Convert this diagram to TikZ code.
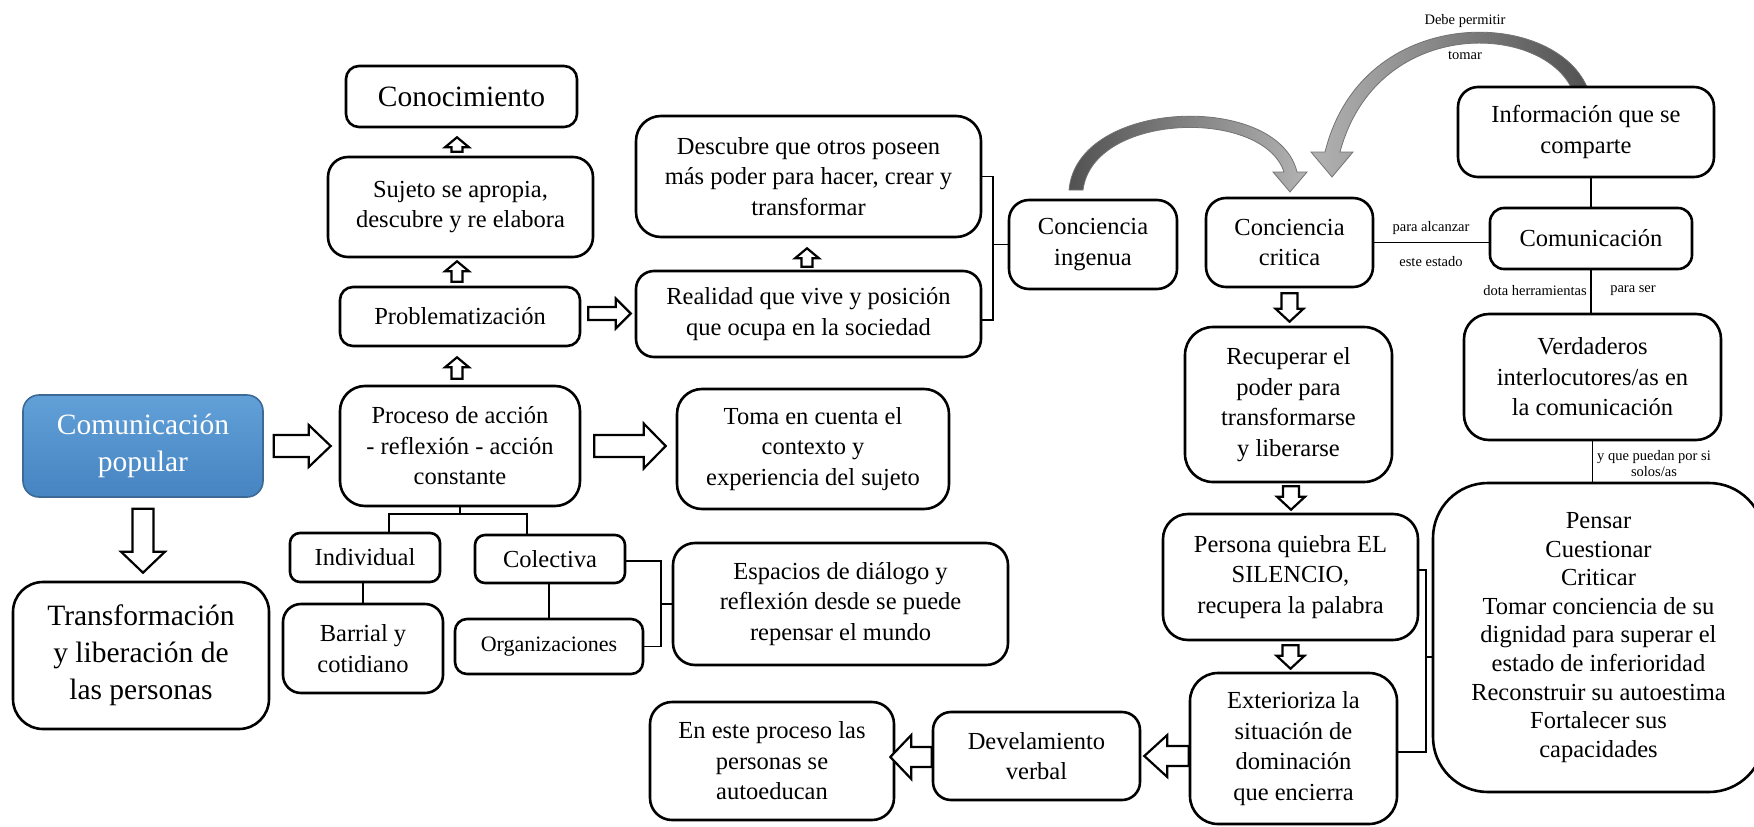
\documentclass[tikz,border=0pt]{standalone}
\usepackage{fontspec}
\setmainfont{Liberation Serif}
\usetikzlibrary{calc}
\newcommand\fa{\fontsize{24.5}{30.5}\selectfont}
\newcommand\fb{\fontsize{29.5}{37}\selectfont}
\newcommand\fsm{\fontsize{14.5}{16}\selectfont}
\newcommand\fpe{\fontsize{24.5}{28.6}\selectfont}
\newcommand\forg{\fontsize{22}{26}\selectfont}
\definecolor{bluetop}{RGB}{98,160,216}
\definecolor{bluebot}{RGB}{70,132,194}
\definecolor{bluedark}{RGB}{60,105,150}
% hollow block arrows: #1 tail, #2 tip, #3 half shaft, #4 half head, #5 head length
\newcommand{\ArrR}[5]{\draw[barrow] let \p1=#1, \p2=#2 in
 (\x1,\y1+#3) -- (\x2-#5,\y1+#3) -- (\x2-#5,\y1+#4) -- (\x2,\y1) -- (\x2-#5,\y1-#4) -- (\x2-#5,\y1-#3) -- (\x1,\y1-#3) -- cycle;}
\newcommand{\ArrL}[5]{\draw[barrow] let \p1=#1, \p2=#2 in
 (\x1,\y1+#3) -- (\x2+#5,\y1+#3) -- (\x2+#5,\y1+#4) -- (\x2,\y1) -- (\x2+#5,\y1-#4) -- (\x2+#5,\y1-#3) -- (\x1,\y1-#3) -- cycle;}
\newcommand{\ArrD}[5]{\draw[barrow] let \p1=#1, \p2=#2 in
 (\x1-#3,\y1) -- (\x1-#3,\y2+#5) -- (\x1-#4,\y2+#5) -- (\x1,\y2) -- (\x1+#4,\y2+#5) -- (\x1+#3,\y2+#5) -- (\x1+#3,\y1) -- cycle;}
\newcommand{\ArrU}[5]{\draw[barrow] let \p1=#1, \p2=#2 in
 (\x1-#3,\y1) -- (\x1-#3,\y2-#5) -- (\x1-#4,\y2-#5) -- (\x1,\y2) -- (\x1+#4,\y2-#5) -- (\x1+#3,\y2-#5) -- (\x1+#3,\y1) -- cycle;}
\tikzset{
 box/.style={draw, line width=2.6pt, rounded corners=#1, align=center, inner sep=0pt, fill=white, font=\fa},
 box/.default=18pt,
 bluebox/.style={draw=bluedark, line width=1.6pt, rounded corners=16pt, align=center, inner sep=0pt,
   top color=bluetop, bottom color=bluebot, text=white, font=\fb},
 conn/.style={line width=1.7pt},
 barrow/.style={draw, line width=2.2pt, fill=white, line join=miter},
 lbl/.style={font=\fsm, align=center, inner sep=0pt},
 garrow/.style={draw=black!55, line width=0.8pt},
}
\begin{document}
\begin{tikzpicture}[x=1pt,y=-1pt]
\useasboundingbox (0,0) rectangle (1754,827);

% gray curved arrows
\shadedraw[garrow, left color=black!30, right color=black!68]
  (1587,87) .. controls (1553,8) and (1362,2) .. (1325,152) -- (1311,152) -- (1332,177) -- (1353,152) -- (1340,152)
  .. controls (1376,18) and (1537,22) .. (1571,87) -- cycle;
\shadedraw[garrow, left color=black!68, right color=black!30]
  (1069,190) .. controls (1077,98) and (1278,92) .. (1297,172) -- (1307,172) -- (1290,192) -- (1273,172) -- (1284,172)
  .. controls (1263,108) and (1093,112) .. (1083,190) -- cycle;

% nodes
\node[bluebox, minimum width=240pt, minimum height=102pt] (cp) at (143,446) {Comunicación\\popular};
\node[box=30pt, font=\fb, minimum width=256pt, minimum height=147pt] (tr) at (141,655.5) {Transformación\\y liberación de\\las personas};
\node[box=25pt, minimum width=240pt, minimum height=120pt] (pr) at (460,446) {Proceso de acción\\- reflexión - acción\\constante};
\node[box=13pt, minimum width=240pt, minimum height=59pt] (pb) at (460,316.5) {Problematización};
\node[box=20pt, minimum width=265pt, minimum height=100pt] (sj) at (460.5,207) {Sujeto se apropia,\\descubre y re elabora};
\node[box=13pt, font=\fb, minimum width=231pt, minimum height=61pt] (co) at (461.5,96.5) {Conocimiento};
\node[box=25pt, minimum width=272pt, minimum height=120pt] (to) at (813,449) {Toma en cuenta el\\contexto y\\experiencia del sujeto};
\node[box=25pt, minimum width=345pt, minimum height=121pt] (de) at (808.5,176.5) {Descubre que otros poseen\\más poder para hacer, crear y\\transformar};
\node[box=18pt, minimum width=345pt, minimum height=86pt] (re) at (808.5,314) {Realidad que vive y posición\\que ocupa en la sociedad};
\node[box=20pt, minimum width=168pt, minimum height=89pt] (ci) at (1093,244.5) {Conciencia\\ingenua};
\node[box=20pt, minimum width=167pt, minimum height=89pt] (cc) at (1289.5,242.5) {Conciencia\\critica};
\node[box=20pt, minimum width=256pt, minimum height=90pt] (in) at (1586,132) {Información que se\\comparte};
\node[box=14pt, minimum width=202pt, minimum height=61pt] (cm) at (1591,238.5) {Comunicación};
\node[box=25pt, minimum width=257pt, minimum height=126pt] (ve) at (1592.5,377) {Verdaderos\\interlocutores/as en\\la comunicación};
\node[box=55pt, font=\fpe, minimum width=331pt, minimum height=309pt] (pe) at (1598.5,637.5) {Pensar\\Cuestionar\\Criticar\\Tomar conciencia de su\\dignidad para superar el\\estado de inferioridad\\Reconstruir su autoestima\\Fortalecer sus\\capacidades};
\node[box=28pt, minimum width=207pt, minimum height=155pt] (rc) at (1288.5,404.5) {Recuperar el\\poder para\\transformarse\\y liberarse};
\node[box=25pt, minimum width=255pt, minimum height=126pt] (pq) at (1290.5,577) {Persona quiebra EL\\SILENCIO,\\recupera la palabra};
\node[box=28pt, minimum width=207pt, minimum height=151pt] (ex) at (1293.5,748.5) {Exterioriza la\\situación de\\dominación\\que encierra};
\node[box=18pt, minimum width=207pt, minimum height=88pt] (dv) at (1036.5,756) {Develamiento\\verbal};
\node[box=22pt, minimum width=244pt, minimum height=118pt] (en) at (772,761) {En este proceso las\\personas se\\autoeducan};
\node[box=10pt, minimum width=150pt, minimum height=49pt] (id) at (365,557.5) {Individual};
\node[box=10pt, minimum width=150pt, minimum height=48pt] (cl) at (550,559) {Colectiva};
\node[box=18pt, minimum width=160pt, minimum height=89pt] (ba) at (363,648.5) {Barrial y\\cotidiano};
\node[box=12pt, font=\forg, minimum width=188pt, minimum height=55pt] (og) at (549,646.5) {Organizaciones};
\node[box=22pt, minimum width=335pt, minimum height=122pt] (es) at (840.5,604) {Espacios de diálogo y\\reflexión desde se puede\\repensar el mundo};

% plain connectors
\draw[conn] (pr.south) -- ++(0,7) coordinate (tj);
\draw[conn] ($(id.north)+(24,0)$) |- (tj) -| ($(cl.north)+(-23,0)$);
\draw[conn] (ba.north) -- (ba.north |- id.south);
\draw[conn] (og.north) -- (og.north |- cl.south);
\draw[conn] ($(cl.east)+(0,2)$) -- ++(35,0) coordinate (b2) |- (og.east);
\draw[conn] (b2 |- es.west) -- (es.west);
\draw[conn] (de.east) -- ++(11,0) coordinate (b1) |- ($(re.east)+(0,6)$);
\draw[conn] (b1 |- ci.west) -- (ci.west);
\draw[conn] ($(pq.east)+(0,-7)$) -- ++(7,0) coordinate (b3) |- ($(ex.east)+(0,3.5)$);
\coordinate (pm) at ($(pe.west)+(0,19.5)$);
\draw[conn] (pm) -- (pm -| b3);
\draw[conn] (cm.north) -- (cm.north |- in.south);
\draw[conn] (cm.south) -- (cm.south |- ve.north);
\draw[conn] (ve.south) -- (ve.south |- pe.north);
\draw[conn] (cc.east) -- (cc.east -| cm.west);

% hollow block arrows
\ArrR{($(cp.east)+(10,0)$)}{($(pr.west)+(-8,0)$)}{11pt}{21pt}{22pt}
\ArrD{($(cp.south)+(0,11)$)}{($(tr.north)+(0,-8)$)}{10.5pt}{22pt}{21pt}
\ArrR{($(pr.east)+(13,0)$)}{($(to.west)+(-10,0)$)}{11pt}{22.5pt}{22pt}
\ArrR{($(pb.east)+(7,-3)$)}{($(re.west)+(-4,0)$)}{6.5pt}{15pt}{15pt}
\ArrU{($(pr.north)+(-3,-6)$)}{($(pb.south)+(-3,10)$)}{5.5pt}{12pt}{10pt}
\ArrU{($(pb.north)+(-3,-4)$)}{($(sj.south)+(-3.5,3)$)}{5.5pt}{12pt}{10pt}
\ArrU{($(sj.north)+(-3.5,-4)$)}{($(co.south)+(-4.5,9)$)}{5.5pt}{12pt}{10pt}
\ArrU{($(re.north)+(-1.5,-3)$)}{($(de.south)+(-1.5,10)$)}{5.5pt}{12pt}{10pt}
\ArrD{($(cc.south)+(0,5)$)}{($(rc.north)+(0,-4)$)}{8pt}{14pt}{13pt}
\ArrD{($(rc.south)+(2.5,3)$)}{($(pq.north)+(0,-3)$)}{8pt}{14pt}{13pt}
\ArrD{($(pq.south)+(0,4)$)}{($(ex.north)+(0,-3)$)}{8pt}{14pt}{13pt}
\ArrL{($(ex.west)+(0,7.5)$)}{($(dv.east)+(3,0)$)}{10pt}{21pt}{23pt}
\ArrL{($(dv.west)+(0,1)$)}{($(en.east)+(-5,0)$)}{10pt}{22pt}{21pt}

% small labels
\node[lbl] (l1) at (1431,228) {para alcanzar};
\node[lbl] (l2) at (1431,262) {este estado};
\node[lbl] (l3) at (1535,291) {dota herramientas};
\node[lbl] (l4) at (1633,291) {para ser};
\node[lbl] (l5) at (1654,464) {y que puedan por si\\solos/as};
\node[lbl] (l6) at (1465,21) {Debe permitir};
\node[lbl] (l7) at (1465,55) {tomar};
\end{tikzpicture}
\end{document}
